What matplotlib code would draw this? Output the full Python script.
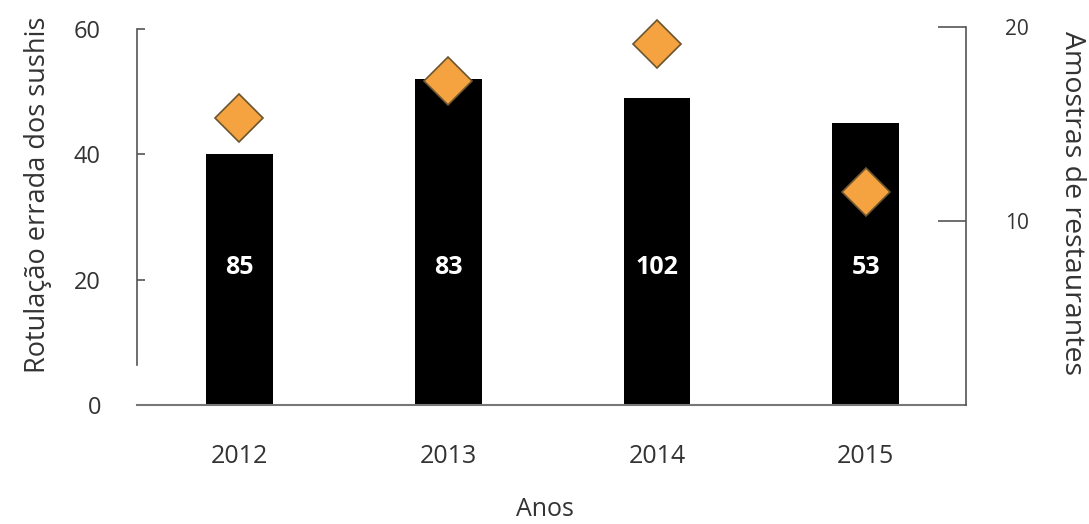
import matplotlib.pyplot as plt
import numpy as np

plt.rcParams['font.family'] = ['Open Sans', 'DejaVu Sans']

anos = ['2012', '2013', '2014', '2015']
rotulacao = [40, 52, 49, 45]          # eixo esquerdo (barras)
amostras = [15.3, 17.2, 19.1, 11.5]   # eixo direito (losangos)
rotulos = ['85', '83', '102', '53']   # texto dentro das barras

cinza = '#555555'
texto = '#333333'

fig = plt.figure(figsize=(10.89, 5.24), dpi=100)
ax = fig.add_axes([0.1258, 0.2271, 0.7612, 0.7214])
x = np.arange(len(anos))

ax.bar(x, rotulacao, width=0.32, color='black', zorder=2)
for xi, r in zip(x, rotulos):
    ax.text(xi, 22, r, color='white', fontsize=18, fontweight='bold',
            ha='center', va='center', zorder=3)

ax.set_xlim(-0.49, 3.48)
ax.set_ylim(0, 60.3)
ax.set_xticks(x)
ax.set_xticklabels(anos)
ax.set_yticks([0, 20, 40, 60])
ax.tick_params(axis='x', length=0, pad=28, labelsize=18, labelcolor=texto)
ax.tick_params(axis='y', direction='in', length=6, width=1.2, color=cinza,
               pad=26, labelsize=17, labelcolor=texto)
ax.spines['top'].set_visible(False)
ax.spines['right'].set_visible(False)
ax.spines['left'].set_bounds(6.4, 60)
ax.spines['left'].set_color(cinza)
ax.spines['left'].set_linewidth(1.2)
ax.spines['bottom'].set_color('#777777')
ax.spines['bottom'].set_linewidth(1.5)
ax.set_ylabel('Rotulação errada dos sushis', fontsize=19.5, color=texto)
ax.yaxis.set_label_coords(-0.103, 0.555)
fig.text(0.5, 0.027, 'Anos', fontsize=18, color=texto, ha='center', va='center')

ax2 = ax.twinx()
ax2.plot(x, amostras, linestyle='none', marker='D', markersize=24,
         markerfacecolor='#F5A340', markeredgecolor='#6b5530', markeredgewidth=1.2,
         zorder=4, clip_on=False)
ax2.set_ylim(0.5, 19.9)
ax2.set_yticks([10, 20])
ax2.tick_params(axis='y', direction='in', length=20, width=1.2, color=cinza,
                pad=28, labelsize=15, labelcolor=texto)
for s in ['top', 'left', 'bottom']:
    ax2.spines[s].set_visible(False)
ax2.spines['right'].set_color(cinza)
ax2.spines['right'].set_linewidth(1.2)
ax2.set_ylabel('Amostras de restaurantes', fontsize=20.5, color=texto, rotation=270)
ax2.yaxis.set_label_coords(1.145, 0.535)

fig.savefig('out.png', dpi=100)
